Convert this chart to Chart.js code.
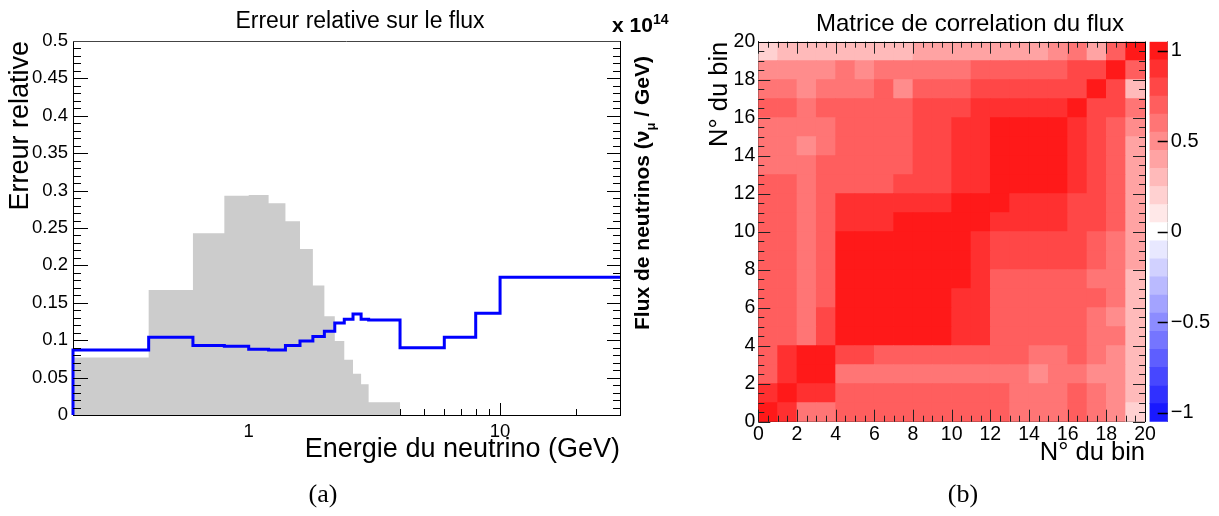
<!DOCTYPE html>
<html>
<head>
<meta charset="utf-8">
<script src="https://cdn.jsdelivr.net/npm/chart.js@4.4.1/dist/chart.umd.min.js"></script>
<style>
  html, body { margin: 0; padding: 0; background: #fff; overflow: hidden; }
  body { width: 1219px; height: 516px; position: relative; font-family: 'Liberation Sans', Arial, sans-serif; }
  canvas { position: absolute; top: 0; }
  .lbl { position: absolute; white-space: nowrap; color: #000; line-height: 1; }
  .fluxTitle { font-weight: bold; font-size: 21px; transform: translate(-50%, -50%) rotate(-90deg); }
  .fluxTitle sub { font-size: 13px; }
  .expo { font-weight: bold; font-size: 21px; }
  .expo sup { font-size: 14px; }
  .sub { font-family: 'Liberation Serif', 'DejaVu Serif', serif; font-size: 26px; transform: translate(-50%, -50%); }
</style>
</head>
<body>
<canvas id="errChart"     width="720" height="516" style="left:0px;width:720px;height:516px"></canvas>
<canvas id="corrChart"    width="540" height="516" style="left:700px;width:540px;height:516px"></canvas>
<canvas id="paletteChart" width="79"  height="516" style="left:1140px;width:79px;height:516px"></canvas>

<div class="lbl expo" style="left:612px;top:12px">x 10<sup>14</sup></div>
<div class="lbl fluxTitle" style="left:644px;top:193px">Flux de neutrinos (&nu;<sub>&mu;</sub> / GeV)</div>
<div class="lbl sub" style="left:323px;top:494px">(a)</div>
<div class="lbl sub" style="left:963px;top:494px">(b)</div>

<script>
/* ── Data ─────────────────────────────────────────────────────── */
// (a) bin edges in GeV, relative error on the flux, flux shape (grey)
const energyEdges = [0.2, 0.4, 0.6, 0.8, 1.0, 1.2, 1.4, 1.6, 1.8, 2.0, 2.2, 2.4, 2.6, 2.8, 3.0, 4.0, 6.0, 8.0, 10, 30];
const relError    = [0.087, 0.104, 0.093, 0.092, 0.088, 0.087, 0.093, 0.099, 0.105, 0.112, 0.123, 0.128, 0.135, 0.128, 0.127, 0.090, 0.104, 0.136, 0.184];
const fluxShape   = [0.077, 0.167, 0.243, 0.293, 0.294, 0.283, 0.259, 0.222, 0.173, 0.132, 0.099, 0.074, 0.055, 0.041, 0.017, 0, 0, 0, 0];

const errTicks    = [0, 0.05, 0.1, 0.15, 0.2, 0.25, 0.3, 0.35, 0.4, 0.45, 0.5];
const energyTicks = [1, 10];
const energyMinor = [0.3, 0.4, 0.5, 0.6, 0.7, 0.8, 0.9, 2, 3, 4, 5, 6, 7, 8, 9, 20];

// (b) correlation matrix, row j = bin on y axis (0 at bottom), column i = bin on x axis
const corrRows = [
  [1.0, 0.9, 0.6, 0.6, 0.7, 0.7, 0.7, 0.7, 0.7, 0.7, 0.7, 0.7, 0.7, 0.6, 0.6, 0.6, 0.7, 0.6, 0.5, 0.2], // 0
  [0.9, 1.0, 0.9, 0.9, 0.7, 0.7, 0.7, 0.7, 0.7, 0.7, 0.7, 0.7, 0.7, 0.6, 0.6, 0.6, 0.7, 0.6, 0.5, 0.3], // 1
  [0.7, 0.9, 1.0, 1.0, 0.6, 0.6, 0.6, 0.6, 0.6, 0.6, 0.6, 0.6, 0.6, 0.6, 0.5, 0.6, 0.6, 0.5, 0.5, 0.3], // 2
  [0.7, 0.9, 1.0, 1.0, 0.8, 0.8, 0.7, 0.7, 0.7, 0.7, 0.7, 0.7, 0.7, 0.7, 0.6, 0.6, 0.7, 0.6, 0.5, 0.3], // 3
  [0.7, 0.7, 0.6, 0.8, 1.0, 1.0, 1.0, 1.0, 1.0, 1.0, 0.9, 0.9, 0.7, 0.7, 0.7, 0.7, 0.7, 0.6, 0.6, 0.3], // 4
  [0.7, 0.7, 0.6, 0.8, 1.0, 1.0, 1.0, 1.0, 1.0, 1.0, 0.9, 0.9, 0.7, 0.7, 0.7, 0.7, 0.7, 0.6, 0.5, 0.3], // 5
  [0.7, 0.7, 0.6, 0.7, 1.0, 1.0, 1.0, 1.0, 1.0, 1.0, 0.9, 0.9, 0.7, 0.7, 0.7, 0.7, 0.7, 0.7, 0.6, 0.3], // 6
  [0.7, 0.7, 0.6, 0.7, 1.0, 1.0, 1.0, 1.0, 1.0, 1.0, 1.0, 0.9, 0.7, 0.7, 0.7, 0.7, 0.7, 0.6, 0.6, 0.3], // 7
  [0.7, 0.7, 0.6, 0.7, 1.0, 1.0, 1.0, 1.0, 1.0, 1.0, 1.0, 0.9, 0.8, 0.8, 0.8, 0.8, 0.8, 0.7, 0.6, 0.4], // 8
  [0.7, 0.7, 0.6, 0.7, 1.0, 1.0, 1.0, 1.0, 1.0, 1.0, 1.0, 0.9, 0.8, 0.8, 0.8, 0.8, 0.8, 0.7, 0.6, 0.4], // 9
  [0.7, 0.7, 0.6, 0.7, 0.9, 0.9, 0.9, 1.0, 1.0, 1.0, 1.0, 1.0, 0.9, 0.9, 0.9, 0.9, 0.8, 0.8, 0.7, 0.4], // 10
  [0.7, 0.7, 0.6, 0.7, 0.9, 0.9, 0.9, 0.9, 0.9, 0.9, 1.0, 1.0, 1.0, 0.9, 0.9, 0.9, 0.8, 0.8, 0.7, 0.4], // 11
  [0.7, 0.7, 0.6, 0.7, 0.7, 0.7, 0.7, 0.8, 0.8, 0.8, 0.9, 0.9, 1.0, 1.0, 1.0, 1.0, 0.9, 0.8, 0.7, 0.4], // 12
  [0.6, 0.6, 0.6, 0.7, 0.7, 0.7, 0.7, 0.7, 0.8, 0.8, 0.9, 0.9, 1.0, 1.0, 1.0, 1.0, 0.9, 0.8, 0.7, 0.4], // 13
  [0.6, 0.6, 0.5, 0.6, 0.7, 0.7, 0.7, 0.7, 0.8, 0.8, 0.9, 0.9, 1.0, 1.0, 1.0, 1.0, 0.9, 0.8, 0.7, 0.4], // 14
  [0.6, 0.6, 0.6, 0.6, 0.7, 0.7, 0.7, 0.7, 0.8, 0.8, 0.9, 0.9, 1.0, 1.0, 1.0, 1.0, 0.9, 0.8, 0.7, 0.5], // 15
  [0.7, 0.7, 0.6, 0.7, 0.7, 0.7, 0.7, 0.7, 0.8, 0.8, 0.8, 0.9, 0.9, 0.9, 0.9, 0.9, 1.0, 0.8, 0.8, 0.6], // 16
  [0.6, 0.6, 0.5, 0.6, 0.6, 0.6, 0.7, 0.5, 0.7, 0.7, 0.7, 0.8, 0.8, 0.8, 0.8, 0.8, 0.8, 1.0, 0.8, 0.3], // 17
  [0.5, 0.5, 0.5, 0.5, 0.6, 0.5, 0.6, 0.6, 0.6, 0.6, 0.6, 0.7, 0.7, 0.7, 0.7, 0.7, 0.8, 0.8, 1.0, 0.7], // 18
  [0.2, 0.3, 0.3, 0.3, 0.3, 0.3, 0.3, 0.3, 0.4, 0.4, 0.4, 0.4, 0.4, 0.4, 0.4, 0.5, 0.6, 0.4, 0.7, 1.0]  // 19
];
const binTicks      = [0, 2, 4, 6, 8, 10, 12, 14, 16, 18, 20];
const paletteLevels = [-1.0, -0.9, -0.8, -0.7, -0.6, -0.5, -0.4, -0.3, -0.2, -0.1, 0,
                        0.1, 0.2, 0.3, 0.4, 0.5, 0.6, 0.7, 0.8, 0.9, 1.0];
const paletteTicks  = [-1, -0.5, 0, 0.5, 1];

/* ── Shared defaults ──────────────────────────────────────────── */
const FONT = "'Liberation Sans', Arial, sans-serif";
Chart.defaults.font.family = FONT;
Chart.defaults.color = '#000';

// blue-white-red palette, one band per 0.1
function zColor(v) {
    const k = Math.max(-10, Math.min(10, Math.round(v * 10)));
    const c = 255 - Math.abs(k) * 23;
    return k >= 0 ? `rgb(255,${c},${c})` : `rgb(${c},${c},255)`;
}

// step outline of a histogram from edges + contents
function histPoints(edges, values, fromZero) {
    const pts = fromZero ? [{ x: edges[0], y: 0 }] : [];
    values.forEach((v, i) => pts.push({ x: edges[i], y: v }));
    pts.push({ x: edges[edges.length - 1], y: values[values.length - 1] });
    return pts;
}

function tickLine(ctx, x1, y1, x2, y2) {
    ctx.moveTo(x1, y1);
    ctx.lineTo(x2, y2);
}

const px = v => Math.round(v) + 0.5;

// empty right-hand axis that only reserves room (keeps the title centred on the pad)
function spacerAxis(width) {
    return {
        display: true,
        position: 'right',
        min: 0,
        max: 1,
        afterFit: s => { s.width = width; },
        grid: { display: false, drawTicks: false },
        border: { display: false },
        ticks: { display: false }
    };
}

/* ── (a) Erreur relative sur le flux ──────────────────────────── */
const errTickPlugin = {
    id: 'errTicks',
    beforeDatasetsDraw(chart) {
        // bottom ticks sit under the grey histogram
        const { ctx, chartArea: a, scales: { x } } = chart;
        ctx.save();
        ctx.strokeStyle = '#000';
        ctx.lineWidth = 1;
        ctx.beginPath();
        energyTicks.forEach(v => { const p = px(x.getPixelForValue(v)); tickLine(ctx, p, a.bottom, p, a.bottom - 12); });
        energyMinor.forEach(v => { const p = px(x.getPixelForValue(v)); tickLine(ctx, p, a.bottom, p, a.bottom - 6); });
        ctx.stroke();
        ctx.restore();
    },
    afterDatasetsDraw(chart) {
        const { ctx, chartArea: a, scales: { y } } = chart;
        ctx.save();
        ctx.strokeStyle = '#000';
        ctx.lineWidth = 1;
        ctx.beginPath();
        for (let v = 0; v <= 0.5001; v += 0.01) {
            const major = Math.abs(v / 0.05 - Math.round(v / 0.05)) < 1e-6;
            const p = px(y.getPixelForValue(v));
            tickLine(ctx, a.left, p, a.left + (major ? 15 : 8), p);
            tickLine(ctx, a.right, p, a.right - (major ? 13 : 7), p);
        }
        ctx.stroke();
        // frame: top and right
        ctx.beginPath();
        ctx.strokeStyle = '#444';
        tickLine(ctx, a.left, px(a.top), a.right, px(a.top));
        ctx.stroke();
        ctx.beginPath();
        ctx.strokeStyle = '#000';
        tickLine(ctx, px(a.right), a.top, px(a.right), a.bottom);
        ctx.stroke();
        ctx.restore();
    }
};

new Chart(document.getElementById('errChart'), {
    type: 'line',
    data: {
        datasets: [{
            label: 'Erreur relative',
            data: histPoints(energyEdges, relError, true),
            borderColor: '#0000ff',
            borderWidth: 3,
            stepped: 'before',
            pointRadius: 0,
            fill: false,
            clip: false,
            order: 0
        }, {
            label: 'Flux',
            data: histPoints(energyEdges, fluxShape, false),
            yAxisID: 'yFlux',
            borderWidth: 0,
            borderColor: 'rgba(0,0,0,0)',
            backgroundColor: '#cccccc',
            stepped: 'before',
            pointRadius: 0,
            fill: 'origin',
            order: 1
        }]
    },
    options: {
        responsive: false,
        animation: false,
        layout: { padding: { left: 0, right: 0, top: 0, bottom: 46 } },
        plugins: {
            legend: { display: false },
            tooltip: { enabled: false },
            title: {
                display: true,
                text: 'Erreur relative sur le flux',
                color: '#000',
                font: { size: 23, weight: 'normal' },
                padding: { top: 7.7, bottom: 5.7 }
            }
        },
        scales: {
            x: {
                type: 'logarithmic',
                min: 0.2,
                max: 30,
                afterBuildTicks: s => { s.ticks = energyTicks.map(v => ({ value: v })); },
                afterFit: s => { s.height = 55; },
                grid: { display: false, drawTicks: false },
                border: { display: true, color: '#000', width: 1 },
                ticks: {
                    autoSkip: false,
                    maxRotation: 0,
                    padding: 6,
                    font: { size: 18.5 },
                    callback: v => String(v)
                },
                title: {
                    display: true,
                    text: 'Energie du neutrino (GeV)',
                    align: 'end',
                    font: { size: 27 },
                    padding: { top: 0, bottom: 3.8 }
                }
            },
            y: {
                min: 0,
                max: 0.5,
                afterBuildTicks: s => { s.ticks = errTicks.map(v => ({ value: v })); },
                afterFit: s => { s.width = 73; },
                grid: { display: false, drawTicks: false },
                border: { display: true, color: '#000', width: 1 },
                ticks: {
                    padding: 5,
                    font: { size: 18.5 },
                    callback: v => String(Number(v.toFixed(2)))
                },
                title: {
                    display: true,
                    text: 'Erreur relative',
                    align: 'end',
                    font: { size: 27 },
                    padding: { top: 4, bottom: 0 }
                }
            },
            yFlux: Object.assign(spacerAxis(100), { max: 0.5 })
        }
    },
    plugins: [errTickPlugin]
});

/* ── (b) Matrice de correlation du flux ───────────────────────── */
const corrTickPlugin = {
    id: 'corrTicks',
    afterDatasetsDraw(chart) {
        const { ctx, chartArea: a, scales: { x, y } } = chart;
        ctx.save();
        ctx.strokeStyle = '#222';
        ctx.lineWidth = 1;
        ctx.beginPath();
        for (let v = 0; v <= 20.001; v += 0.5) {
            const len = v % 2 === 0 ? 12 : 6;
            const pxX = px(x.getPixelForValue(v));
            const pxY = px(y.getPixelForValue(v));
            tickLine(ctx, pxX, a.bottom, pxX, a.bottom - len);
            tickLine(ctx, pxX, a.top, pxX, a.top + len);
            tickLine(ctx, a.left, pxY, a.left + len, pxY);
            tickLine(ctx, a.right, pxY, a.right - len, pxY);
        }
        ctx.stroke();
        ctx.beginPath();
        ctx.strokeStyle = '#000';
        tickLine(ctx, a.left, px(a.top), a.right, px(a.top));
        tickLine(ctx, px(a.right), a.top, px(a.right), a.bottom);
        ctx.stroke();
        ctx.restore();
    }
};

new Chart(document.getElementById('corrChart'), {
    type: 'bar',
    data: {
        datasets: corrRows.map((row, j) => ({
            label: 'bin ' + j,
            data: row.map((v, i) => ({ x: i + 0.5, y: [j, j + 1] })),
            backgroundColor: row.map(zColor),
            borderWidth: 0,
            grouped: false,
            barPercentage: 1,
            categoryPercentage: 1
        }))
    },
    options: {
        responsive: false,
        animation: false,
        layout: { padding: { left: 0, right: 0, top: 0, bottom: 46 } },
        plugins: {
            legend: { display: false },
            tooltip: { enabled: false },
            title: {
                display: true,
                text: 'Matrice de correlation du flux',
                color: '#000',
                font: { size: 24, weight: 'normal' },
                padding: { top: 9.6, bottom: 3.3 }
            }
        },
        scales: {
            x: {
                type: 'linear',
                min: 0,
                max: 20,
                offset: false,
                afterBuildTicks: s => { s.ticks = binTicks.map(v => ({ value: v })); },
                afterFit: s => { s.height = 48.3; },
                grid: { display: false, drawTicks: false },
                border: { display: true, color: '#222', width: 1 },
                ticks: { autoSkip: false, maxRotation: 0, padding: 1, font: { size: 19.5 } },
                title: {
                    display: true,
                    text: 'N° du bin',
                    align: 'end',
                    font: { size: 25.5 },
                    padding: { top: 0, bottom: 1.7 }
                }
            },
            y: {
                min: 0,
                max: 20,
                afterBuildTicks: s => { s.ticks = binTicks.map(v => ({ value: v })); },
                afterFit: s => { s.width = 58.3; },
                grid: { display: false, drawTicks: false },
                border: { display: true, color: '#222', width: 1 },
                ticks: { autoSkip: false, padding: 3, font: { size: 19.5 } },
                title: {
                    display: true,
                    text: 'N° du bin',
                    align: 'end',
                    font: { size: 25.5 },
                    padding: { top: 4.7, bottom: 0 }
                }
            },
            yPad: spacerAxis(95)
        }
    },
    plugins: [corrTickPlugin]
});

/* ── Palette (colour scale) ───────────────────────────────────── */
const paletteTickPlugin = {
    id: 'paletteTicks',
    afterDatasetsDraw(chart) {
        const { ctx, chartArea: a, scales: { y } } = chart;
        ctx.save();
        ctx.strokeStyle = '#000';
        ctx.lineWidth = 1.5;
        ctx.beginPath();
        paletteTicks.forEach(v => {
            const p = px(y.getPixelForValue(v));
            tickLine(ctx, a.right, p, a.right - 10, p);
        });
        ctx.stroke();
        ctx.restore();
    }
};

const paletteHalf = 0.05;
new Chart(document.getElementById('paletteChart'), {
    type: 'bar',
    data: {
        labels: [''],
        datasets: paletteLevels.map(lv => ({
            data: [[lv - paletteHalf, lv + paletteHalf]],
            backgroundColor: zColor(lv),
            borderWidth: 0,
            grouped: false,
            barPercentage: 1,
            categoryPercentage: 1
        }))
    },
    options: {
        responsive: false,
        animation: false,
        layout: { padding: { left: 9.5, right: 0, top: 41.7, bottom: 94.3 } },
        plugins: { legend: { display: false }, tooltip: { enabled: false } },
        scales: {
            x: { display: false },
            y: {
                position: 'right',
                min: -1.05,
                max: 1.05,
                afterBuildTicks: s => { s.ticks = paletteTicks.map(v => ({ value: v })); },
                afterFit: s => { s.width = 51.3; },
                grid: { display: false, drawTicks: false },
                border: { display: true, color: '#888', width: 1 },
                ticks: {
                    padding: 3,
                    font: { size: 20 },
                    callback: v => v < 0 ? '\u2212' + Math.abs(v) : String(v)
                }
            }
        }
    },
    plugins: [paletteTickPlugin]
});
</script>
</body>
</html>
